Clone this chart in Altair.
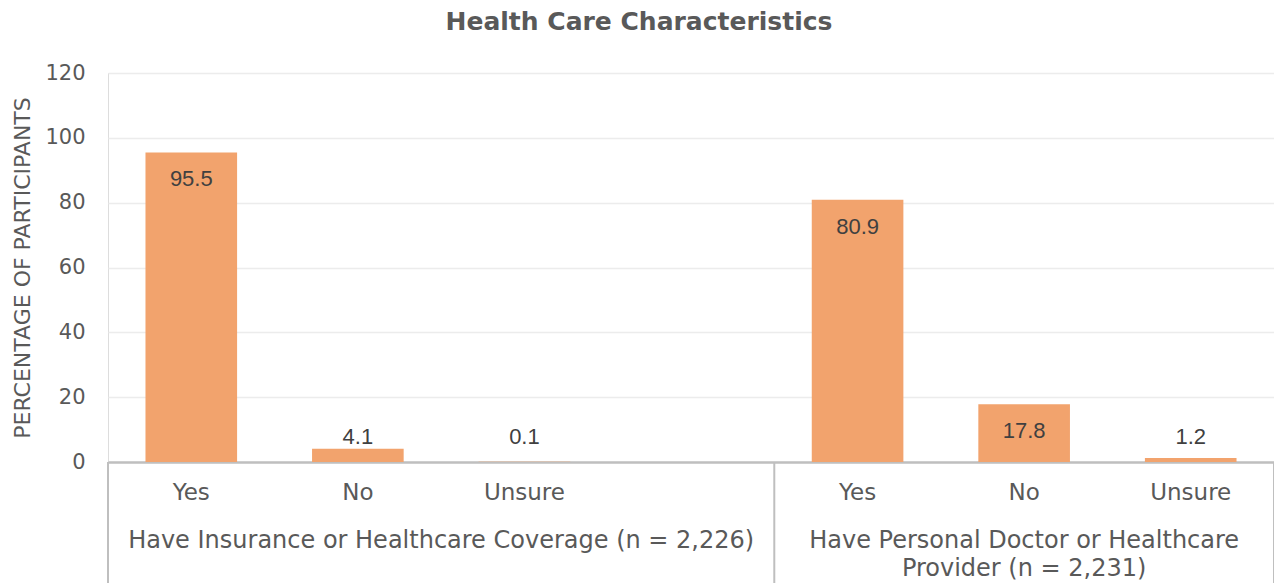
import altair as alt
import pandas as pd

# Survey results (percentage of participants)
groups = [
    "Have Insurance or Healthcare Coverage (n = 2,226)",
    "Have Personal Doctor or Healthcare\nProvider (n = 2,231)",
]
responses = ["Yes", "No", "Unsure"]
insurance_pct = [95.5, 4.1, 0.1]
doctor_pct = [80.9, 17.8, 1.2]
y_ticks = [0, 20, 40, 60, 80, 100, 120]

BAR = "#F2A36D"
GRID = "#ececec"
AXIS_LINE = "#bfbfbf"
TEXT = "#595959"
LABEL_FONT = "DejaVu Sans"

# Category slots along x; the first group carries one empty trailing slot
slots = [("g0", r) for r in responses] + [("g0", "")] + [("g1", r) for r in responses]
keys = [f"{g}|{r}" for g, r in slots]

bars_df = pd.DataFrame({
    "key": [f"g0|{r}" for r in responses] + [f"g1|{r}" for r in responses],
    "value": insurance_pct + doctor_pct,
})

# Group spans in slot units, derived from the slot list
group_ids = ["g0", "g1"]
starts, ends = [], []
for g in group_ids:
    idx = [i for i, (gg, _) in enumerate(slots) if gg == g]
    starts.append(min(idx))
    ends.append(max(idx) + 1)
groups_df = pd.DataFrame({
    "label": groups,
    "mid": [(s + e) / 2 for s, e in zip(starts, ends)],
})
bounds_df = pd.DataFrame({"b": sorted(set(starts + ends))})
n_slots = len(slots)

W, H = 1166, 389

x_band = alt.X(
    "key:N",
    sort=keys,
    scale=alt.Scale(domain=keys, paddingInner=0.45, paddingOuter=0.225),
    axis=alt.Axis(
        title=None,
        labelExpr="split(datum.value, '|')[1]",
        labelAngle=0,
        ticks=False,
        grid=False,
        domainColor=AXIS_LINE,
        domainWidth=2.5,
        labelPadding=19,
        labelFontSize=23,
        labelFont=LABEL_FONT,
        labelColor=TEXT,
    ),
)
y_val = alt.Y(
    "value:Q",
    scale=alt.Scale(domain=[0, 120]),
    axis=alt.Axis(
        values=y_ticks,
        title="PERCENTAGE OF PARTICIPANTS",
        titleFont=LABEL_FONT,
        titleFontSize=22,
        titleFontWeight="normal",
        titleColor=TEXT,
        titlePadding=10,
        labelFont=LABEL_FONT,
        labelFontSize=21,
        labelColor=TEXT,
        labelPadding=23,
        ticks=False,
        domain=False,
        grid=True,
        gridColor=GRID,
        gridWidth=1.5,
    ),
)

base = alt.Chart(bars_df)
bar_layer = base.mark_bar(color=BAR).encode(x=x_band, y=y_val)
inside_labels = base.transform_filter("datum.value >= 10").mark_text(
    baseline="middle", dy=27, fontSize=22, font="Liberation Sans", color="#404040"
).encode(x=x_band, y=y_val, text=alt.Text("value:Q", format=".1f"))
outside_labels = base.transform_filter("datum.value < 10").mark_text(
    baseline="middle", dy=-25, fontSize=22, font="Liberation Sans", color="#404040"
).encode(x=x_band, y=alt.datum(0), text=alt.Text("value:Q", format=".1f"))

bars_block = alt.layer(bar_layer, inside_labels, outside_labels)

x_lin = alt.Scale(domain=[0, n_slots], nice=False, zero=False)
group_labels = alt.Chart(groups_df).mark_text(
    baseline="top", align="center", lineBreak="\n", lineHeight=28,
    fontSize=24, font=LABEL_FONT, color=TEXT,
).encode(
    x=alt.X("mid:Q", scale=x_lin, axis=None),
    y=alt.value(456),
    text="label:N",
)
separators = alt.Chart(bounds_df).mark_rule(color=AXIS_LINE, strokeWidth=2).encode(
    x=alt.X("b:Q", scale=x_lin, axis=None),
    y=alt.value(H),
    y2=alt.value(H + 125),
)

chart = alt.layer(bars_block, separators, group_labels).resolve_scale(
    x="independent"
).properties(
    width=W,
    height=H,
    title=alt.Title(
        "Health Care Characteristics",
        fontSize=25,
        font=LABEL_FONT,
        fontWeight="bold",
        color=TEXT,
        anchor="middle",
        dx=-52,
        dy=-23,
    ),
    autosize=alt.AutoSizeParams(type="none"),
    padding={"left": 108, "top": 73, "right": 0, "bottom": 121},
).configure_view(stroke=None).configure(background="white")

chart.save("out.html", embed_options={"renderer": "svg", "actions": False})
